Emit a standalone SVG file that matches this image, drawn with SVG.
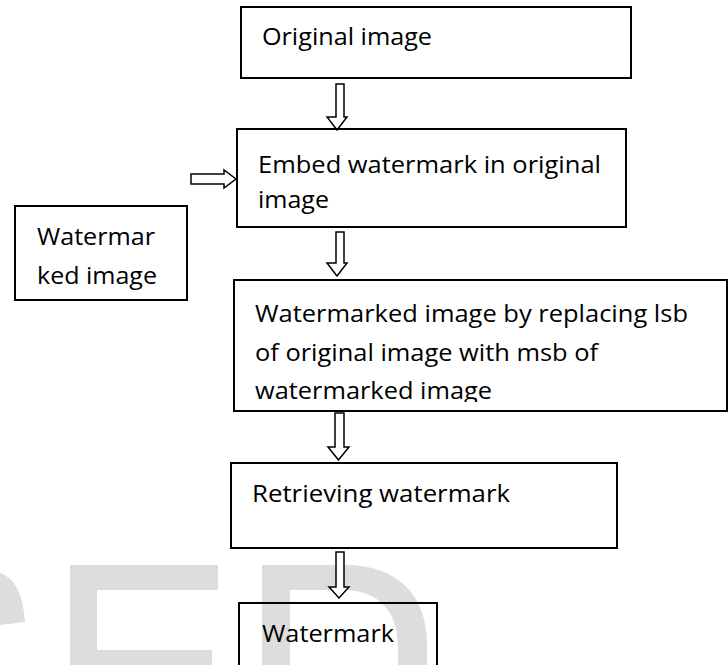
<svg xmlns="http://www.w3.org/2000/svg" width="728" height="665" viewBox="0 0 728 665">
<defs>
<style>
.box{fill:none;stroke:#000;stroke-width:2}
.arr{fill:#fff;stroke:#000;stroke-width:1.5;stroke-linejoin:miter}
.t{font-family:"Open Sans","Liberation Sans",sans-serif;font-size:24px;fill:#000}
.wm{fill:#dddddd}
</style>
<clipPath id="clip3"><rect x="234" y="280" width="494" height="122"/></clipPath>
</defs>
<rect width="728" height="665" fill="#fff"/>
<g id="background-watermark">
<path class="wm" d="M0,573 Q22,580 25,622 L0,625 Z"/>
<path class="wm" d="M70,565 H218 V590 H97 V650 H212 V665 H70 Z"/>
<path class="wm" d="M262,565 H345 C398,565 427,595 427,645 L427,665 L398,665 L398,648 C398,612 380,590 342,590 H290 V665 H262 Z"/>
</g>
<g id="connectors">
<polygon class="arr" points="336,84 344,84 344,117 347,117 337,130 327,117 336,117"/>
<polygon class="arr" points="191,174 224,174 224,170 236,179 224,188 224,184 191,184"/>
<polygon class="arr" points="336,232 344,232 344,263 347,263 337,276 327,263 336,263"/>
<polygon class="arr" points="335,413 344,413 344,447 349,447 338.5,460 328,447 335,447"/>
<polygon class="arr" points="336,552 344,552 344,587 349,587 339,598 329,587 336,587"/>
</g>
<g id="node-original">
<rect class="box" x="241" y="7" width="390" height="71"/>
<text class="t" x="262" y="45" textLength="170" lengthAdjust="spacingAndGlyphs">Original image</text>
</g>
<g id="node-embed">
<rect class="box" x="237" y="129" width="389" height="98"/>
<text class="t" x="258" y="173" textLength="343" lengthAdjust="spacingAndGlyphs">Embed watermark in original</text>
<text class="t" x="258" y="208" textLength="71" lengthAdjust="spacingAndGlyphs">image</text>
</g>
<g id="node-watermarked-input">
<rect class="box" x="15" y="206" width="172" height="94"/>
<text class="t" x="37" y="245" textLength="118" lengthAdjust="spacingAndGlyphs">Watermar</text>
<text class="t" x="37" y="284" textLength="120" lengthAdjust="spacingAndGlyphs">ked image</text>
</g>
<g id="node-replace">
<rect class="box" x="234" y="280" width="493" height="131"/>
<g clip-path="url(#clip3)">
<text class="t" x="255" y="322" textLength="433" lengthAdjust="spacingAndGlyphs">Watermarked image by replacing lsb</text>
<text class="t" x="255" y="361" textLength="343" lengthAdjust="spacingAndGlyphs">of original image with msb of</text>
<text class="t" x="255" y="399" textLength="237" lengthAdjust="spacingAndGlyphs">watermarked image</text>
</g>
</g>
<g id="node-retrieve">
<rect class="box" x="231" y="463" width="386" height="85"/>
<text class="t" x="252" y="502" textLength="258" lengthAdjust="spacingAndGlyphs">Retrieving watermark</text>
</g>
<g id="node-watermark">
<rect class="box" x="239" y="603" width="198" height="70"/>
<text class="t" x="262" y="642" textLength="132" lengthAdjust="spacingAndGlyphs">Watermark</text>
</g>
</svg>
